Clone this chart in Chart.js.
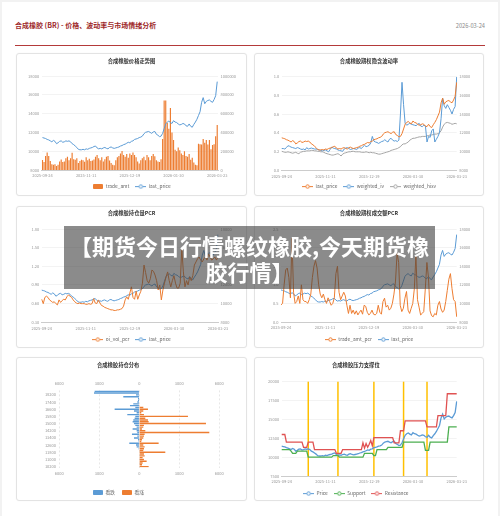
<!DOCTYPE html>
<html lang="zh">
<head>
<meta charset="utf-8">
<title>合成橡胶 (BR) - 价格、波动率与市场情绪分析</title>
<script src="https://cdn.jsdelivr.net/npm/chart.js@4.4.1/dist/chart.umd.min.js"></script>
<style>
  html, body { margin: 0; padding: 0; }
  body { width: 500px; height: 516px; position: relative; overflow: hidden; background: #f2f2f2;
         font-family: "Noto Sans CJK SC", "Noto Sans", sans-serif; }
  .page { position: absolute; left: 2px; top: 2px; width: 496px; height: 514px; background: #fff; }
  .head-title { position: absolute; left: 15px; top: 21px; font-size: 7px; line-height: 9px; font-weight: bold; color: #9e2a2b; white-space: nowrap; }
  .head-date { position: absolute; right: 15px; top: 22px; font-size: 5.7px; line-height: 7px; color: #8a8a8a; }
  .head-rule { position: absolute; left: 15px; top: 45px; width: 470px; height: 1px; background: #b43a3a; }
  .card { position: absolute; box-sizing: border-box; border: 1px solid #e3e3e3; border-radius: 3px; background: #fff;
          box-shadow: 0 0 2px rgba(0,0,0,0.04); }
  canvas { position: absolute; }
  .banner { position: absolute; left: 64px; top: 226px; width: 371px; height: 63px; background: rgba(62,62,62,0.6);
            color: #fff; font-weight: bold; font-size: 22px; line-height: 26px; text-align: center;
            display: flex; flex-direction: column; justify-content: center; white-space: nowrap; z-index: 5; }
</style>
</head>
<body>
<div class="page"></div>
<div class="head-title">合成橡胶 (BR) - 价格、波动率与市场情绪分析</div>
<div class="head-date">2026-03-24</div>
<div class="head-rule"></div>

<div class="card" style="left:16px;top:53px;width:231px;height:143px"></div>
<div class="card" style="left:254px;top:53px;width:230px;height:143px"></div>
<div class="card" style="left:16px;top:206px;width:231px;height:142px"></div>
<div class="card" style="left:254px;top:206px;width:230px;height:142px"></div>
<div class="card" style="left:16px;top:357px;width:231px;height:144px"></div>
<div class="card" style="left:254px;top:357px;width:230px;height:144px"></div>

<canvas id="c1"></canvas>
<canvas id="c2"></canvas>
<canvas id="c3"></canvas>
<canvas id="c4"></canvas>
<canvas id="c5"></canvas>
<canvas id="c6"></canvas>

<div class="banner"><div>【期货今日行情螺纹橡胶,今天期货橡</div><div>胶行情】</div></div>

<script>
// trading days shown on the time axes
const dates = [
    '2025-09-24', '2025-09-25', '2025-09-26', '2025-09-29', '2025-09-30', '2025-10-09', '2025-10-10',
    '2025-10-13', '2025-10-14', '2025-10-15', '2025-10-16', '2025-10-17',
    '2025-10-20', '2025-10-21', '2025-10-22', '2025-10-23', '2025-10-24',
    '2025-10-27', '2025-10-28', '2025-10-29', '2025-10-30', '2025-10-31',
    '2025-11-03', '2025-11-04', '2025-11-05', '2025-11-06', '2025-11-07',
    '2025-11-10', '2025-11-11', '2025-11-12', '2025-11-13', '2025-11-14',
    '2025-11-17', '2025-11-18', '2025-11-19', '2025-11-20', '2025-11-21',
    '2025-11-24', '2025-11-25', '2025-11-26', '2025-11-27', '2025-11-28',
    '2025-12-01', '2025-12-02', '2025-12-03', '2025-12-04', '2025-12-05',
    '2025-12-08', '2025-12-09', '2025-12-10', '2025-12-11', '2025-12-12',
    '2025-12-15', '2025-12-16', '2025-12-17', '2025-12-18', '2025-12-19',
    '2025-12-22', '2025-12-23', '2025-12-24', '2025-12-25', '2025-12-26',
    '2025-12-29', '2025-12-30', '2025-12-31',
    '2026-01-05', '2026-01-06', '2026-01-07', '2026-01-08', '2026-01-09',
    '2026-01-12', '2026-01-13', '2026-01-14', '2026-01-15', '2026-01-16',
    '2026-01-19', '2026-01-20', '2026-01-21', '2026-01-22', '2026-01-23',
    '2026-01-26', '2026-01-27', '2026-01-28', '2026-01-29', '2026-01-30',
    '2026-02-02', '2026-02-03', '2026-02-04', '2026-02-05', '2026-02-06',
    '2026-02-09', '2026-02-10', '2026-02-11', '2026-02-12', '2026-02-13',
    '2026-02-26', '2026-02-27',
    '2026-03-02', '2026-03-03', '2026-03-04', '2026-03-05', '2026-03-06',
    '2026-03-09', '2026-03-10', '2026-03-11', '2026-03-12', '2026-03-13',
    '2026-03-16', '2026-03-17', '2026-03-18', '2026-03-19', '2026-03-20',
    '2026-03-23'
];

const lastPrice = [
    11450, 11400, 11350, 11250, 11200, 11100, 11000, 11150, 11050, 10800,
    10900, 11050, 11100, 10950, 11000, 11100, 11050, 11100, 11000, 10800,
    10700, 10550, 10400, 10200, 10150, 10150, 10200, 10150, 10250, 10200,
    10300, 10350, 10400, 10500, 10550, 10350, 10250, 10300, 10250, 10350,
    10400, 10300, 10250, 10400, 10450, 10350, 10300, 10350, 10400, 10450,
    10550, 10600, 10700, 10750, 10850, 10950, 10900, 11050, 11100, 11250,
    11300, 11350, 11450, 11500, 11600, 11850, 12000, 12050, 12100, 12000,
    11900, 12050, 12100, 11800, 11700, 11550, 11600, 11900, 12400, 12900,
    13100, 13200, 13050, 12950, 13250, 13100, 13050, 12900, 12800, 12850,
    12950, 12900, 12700, 12650, 12900, 12650, 12550, 12850, 13100, 13400,
    13800, 14200, 15200, 15700, 15050, 15300, 15400, 15450, 15300, 15200,
    15500, 15900, 17400
];

const tradeAmt = [
    106000, 85000, 150000, 185000, 150000, 95000, 60000, 55000, 60000, 43000,
    55000, 90000, 113000, 85000, 90000, 124000, 142000, 105000, 125000, 184000,
    115000, 110000, 125000, 75000, 95000, 110000, 105000, 88000, 135000, 105000,
    120000, 95000, 100000, 113000, 140000, 160000, 125000, 105000, 135000, 90000,
    115000, 140000, 150000, 100000, 75000, 55000, 50000, 105000, 135000, 150000,
    175000, 202000, 160000, 140000, 170000, 130000, 175000, 160000, 185000, 160000,
    135000, 90000, 70000, 105000, 125000, 140000, 105000, 160000, 135000, 105000,
    150000, 170000, 145000, 105000, 90000, 85000, 115000, 330000, 740000, 740000,
    500000, 440000, 660000, 400000, 320000, 215000, 200000, 240000, 210000, 175000,
    160000, 200000, 150000, 140000, 170000, 110000, 130000, 80000, 55000, 50000,
    280000, 275000, 270000, 330000, 290000, 320000, 270000, 320000, 220000, 265000,
    275000, 360000, 480000
];

const weightedIv = [
    0.23, 0.23, 0.225, 0.24, 0.26, 0.255, 0.245, 0.24, 0.235, 0.23,
    0.24, 0.235, 0.225, 0.22, 0.225, 0.215, 0.24, 0.225, 0.23, 0.235,
    0.23, 0.225, 0.225, 0.22, 0.215, 0.21, 0.205, 0.21, 0.215, 0.205,
    0.195, 0.22, 0.245, 0.235, 0.23, 0.225, 0.215, 0.21, 0.205, 0.2,
    0.225, 0.235, 0.24, 0.23, 0.22, 0.225, 0.23, 0.225, 0.22, 0.235,
    0.24, 0.23, 0.25, 0.265, 0.25, 0.255, 0.265, 0.29, 0.36, 0.31,
    0.3, 0.295, 0.285, 0.295, 0.305, 0.31, 0.325, 0.31, 0.3, 0.33,
    0.34, 0.32, 0.31, 0.315, 0.305, 0.32, 0.6, 0.94, 0.7, 0.5,
    0.48, 0.49, 0.5, 0.49, 0.485, 0.48, 0.475, 0.49, 0.5, 0.47,
    0.465, 0.48, 0.47, 0.3, 0.36, 0.35, 0.42, 0.44, 0.3, 0.33,
    0.36, 0.4, 0.55, 0.77, 0.69, 0.66, 0.7, 0.67, 0.64, 0.6,
    0.65, 0.68, 1.0
];

const weightedHisv = [
    0.2, 0.195, 0.19, 0.19, 0.195, 0.19, 0.185, 0.18, 0.185, 0.19,
    0.18, 0.175, 0.19, 0.195, 0.2, 0.2, 0.205, 0.205, 0.205, 0.21,
    0.21, 0.205, 0.205, 0.2, 0.2, 0.195, 0.195, 0.19, 0.18, 0.175,
    0.17, 0.165, 0.16, 0.16, 0.165, 0.17, 0.175, 0.165, 0.15, 0.17,
    0.18, 0.185, 0.19, 0.195, 0.195, 0.2, 0.2, 0.195, 0.195, 0.195,
    0.195, 0.19, 0.19, 0.19, 0.195, 0.19, 0.185, 0.19, 0.185, 0.185,
    0.18, 0.175, 0.17, 0.17, 0.175, 0.18, 0.185, 0.19, 0.195, 0.2,
    0.21, 0.215, 0.22, 0.225, 0.23, 0.24, 0.25, 0.27, 0.28, 0.28,
    0.29, 0.3, 0.32, 0.33, 0.34, 0.34, 0.345, 0.35, 0.355, 0.355,
    0.36, 0.36, 0.36, 0.365, 0.37, 0.375, 0.375, 0.38, 0.385, 0.385,
    0.39, 0.4, 0.42, 0.46, 0.49, 0.505, 0.51, 0.505, 0.5, 0.49,
    0.495, 0.5, 0.495
];

const oiVolPcr = [
    0.67, 0.6, 0.7, 0.72, 0.7, 0.66, 0.64, 0.62, 0.63, 0.6,
    0.58, 0.66, 0.62, 0.65, 0.67, 0.66, 0.71, 0.74, 0.72, 0.7,
    0.66, 0.63, 0.61, 0.6, 0.61, 0.6, 0.6, 0.6, 0.59, 0.59,
    0.6, 0.59, 0.6, 0.68, 0.61, 0.6, 0.66, 0.61, 0.57, 0.56,
    0.54, 0.53, 0.52, 0.51, 0.5, 0.5, 0.49, 0.49, 0.5, 0.5,
    0.51, 0.52, 0.56, 0.66, 0.71, 0.67, 0.77, 0.87, 0.7, 0.67,
    0.8, 0.67, 0.74, 0.8, 0.93, 1.22, 1.1, 0.97, 0.93, 1.0,
    1.14, 1.12, 1.06, 0.97, 0.82, 0.9, 0.66, 0.82, 0.93, 1.03,
    1.11, 0.97, 0.87, 0.97, 1.05, 0.93, 0.85, 0.85, 0.93, 1.49,
    1.11, 0.87, 0.97, 0.9, 1.03, 0.97, 1.05, 1.22, 1.27, 1.32,
    1.35, 1.3, 1.27, 1.32, 1.35, 1.3, 1.4, 1.35, 1.3, 1.32,
    1.35, 1.3, 1.35
];

const tradeAmtPcr = [
    0.46, 0.5, 1.0, 1.4, 1.45, 1.2, 0.65, 2.25, 0.8, 0.5,
    0.55, 0.7, 0.5, 1.0, 0.6, 0.55, 0.55, 0.5, 0.6, 0.75,
    1.2, 1.5, 1.65, 1.45, 1.0, 0.75, 0.65, 0.75, 0.6, 0.5,
    0.65, 0.55, 0.45, 0.5, 0.65, 1.3, 1.5, 0.8, 0.6, 0.7,
    0.8, 0.7, 0.45, 0.23, 0.45, 0.23, 0.32, 0.21, 0.3, 0.19,
    0.26, 0.32, 0.21, 0.45, 0.42, 0.26, 0.19, 0.23, 0.32, 0.21,
    0.19, 0.23, 0.45, 0.26, 0.21, 0.55, 0.64, 0.4, 0.45, 0.32,
    0.37, 0.5, 0.75, 1.1, 1.85, 1.6, 0.45, 0.28, 0.37, 0.64,
    0.82, 0.32, 0.23, 0.37, 0.5, 0.9, 1.8, 0.6, 0.4, 0.19,
    0.23, 0.28, 0.9, 1.6, 1.2, 0.3, 0.17, 0.14, 0.23, 0.19,
    0.45, 0.55, 0.35, 0.26, 0.32, 0.55, 0.85, 1.15, 1.3, 0.9,
    0.6, 0.55, 0.14
];

const support = [
    11000, 11000, 11000, 11000, 11000, 11000, 10800, 10500, 10500, 10500,
    10800, 10800, 10800, 10800, 10800, 10800, 10800, 10000, 10000, 10000,
    10000, 10000, 10000, 10000, 10000, 10000, 10000, 10000, 10000, 10000,
    10000, 10000, 10000, 10200, 10200, 10200, 10200, 10000, 10000, 10000,
    10000, 10000, 10000, 10000, 10000, 10000, 10000, 10000, 10000, 10000,
    10000, 10000, 10000, 10500, 10500, 10500, 10500, 10500, 10500, 10200,
    10200, 11000, 11000, 11000, 11000, 11000, 11000, 11000, 11300, 11300,
    11300, 11300, 11300, 11300, 11300, 11300, 11300, 11300, 12000, 12000,
    12000, 12000, 12000, 12000, 12000, 12000, 12000, 12000, 12000, 12000,
    12000, 12000, 10900, 10900, 10900, 12000, 12000, 12000, 12000, 12000,
    12000, 12000, 12000, 12000, 12000, 12000, 12000, 14000, 14000, 14000,
    14000, 14000, 14000
];

const resistance = [
    13000, 13000, 13000, 12000, 12000, 12000, 12000, 12000, 12000, 12000,
    12000, 12000, 12000, 12000, 11300, 11300, 11300, 12000, 12000, 12000,
    12000, 11000, 11000, 11000, 11000, 11000, 11000, 11000, 11000, 11000,
    11000, 11000, 11000, 11000, 11000, 10500, 10500, 10500, 10500, 11000,
    11000, 11000, 11000, 11000, 11000, 11000, 11000, 11000, 11000, 11000,
    11000, 11000, 11900, 11200, 11800, 11300, 11700, 12200, 11500, 12600,
    12600, 12600, 12600, 12600, 12600, 12600, 12600, 12600, 12600, 12600,
    12600, 12600, 11900, 11900, 11900, 11900, 13500, 13500, 13500, 14800,
    14800, 14800, 14800, 14800, 14800, 14800, 14800, 14800, 14800, 14800,
    14800, 14800, 14800, 14000, 14000, 14000, 14000, 14000, 14000, 14000,
    15500, 15500, 15500, 15500, 15500, 15500, 18400, 18400, 18400, 18400,
    18400, 18400, 18400
];

// marked days on the support / resistance chart
const eventDates = ['2025-10-27', '2025-11-21', '2025-12-24', '2026-01-22', '2026-02-12'];

// option open interest by strike, top to bottom
const strikes = [
    '18600', '18400', '18200', '18000', '17800', '17600', '17400', '17200', '17000', '16800',
    '16600', '16400', '16200', '16000', '15800', '15600', '15400', '15200', '15000', '14800',
    '14600', '14400', '14200', '14000', '13800', '13600', '13400', '13200', '13000', '12800',
    '12600', '12400', '12200', '12000', '11800', '11600', '11400', '11200', '11000', '10800',
    '10600', '10400', '10200'
];
const putOi = [
    3350, 3400, 250, 1200, 100, 100, 150, 450, 700, 300,
    1850, 400, 200, 900, 300, 350, 450, 500, 400, 300,
    200, 500, 200, 150, 550, 150, 400, 100, 50, 750,
    250, 200, 50, 0, 0, 0, 0, 0, 0, 0,
    0, 0, 0
];
const callOi = [
    0, 0, 0, 0, 0, 0, 0, 0, 50, 300,
    650, 300, 150, 350, 3650, 450, 650, 700, 5000, 350,
    300, 200, 450, 5250, 400, 350, 300, 200, 150, 1450,
    300, 400, 350, 300, 1950, 350, 400, 250, 350, 550,
    250, 200, 700
];

const BLUE = '#5b9bd5', ORANGE = '#ed7d31', GRAY = '#a5a5a5', GREEN = '#4caf50', RED = '#e05252', YELLOW = '#ffc000';
const TITLE_SIZE = 5.3, TICK_SIZE = 4, LEGEND_SIZE = 4.8, LEGEND_PAD = 6;

Chart.defaults.font.family = '"Noto Sans CJK SC", "Noto Sans", sans-serif';

function lineIcon(color) {
    const c = document.createElement('canvas');
    c.width = 11; c.height = 5;
    const g = c.getContext('2d');
    g.strokeStyle = color; g.lineWidth = 1;
    g.beginPath(); g.moveTo(0, 2.5); g.lineTo(11, 2.5); g.stroke();
    g.beginPath(); g.arc(5.5, 2.5, 1.7, 0, Math.PI * 2);
    g.fillStyle = '#fff'; g.fill(); g.stroke();
    return c;
}

function boxIcon(color) {
    const c = document.createElement('canvas');
    c.width = 10; c.height = 5;
    const g = c.getContext('2d');
    g.fillStyle = color;
    g.beginPath(); g.roundRect(0, 0, 10, 5, 1); g.fill();
    return c;
}

function frame(id, left, top, width, height) {
    const cv = document.getElementById(id);
    cv.width = width; cv.height = height;
    cv.style.left = left + 'px'; cv.style.top = top + 'px';
    return { cv, left, top, width, height };
}

function legendTop(box) {
    return box.top + box.height - (LEGEND_SIZE + LEGEND_PAD + 10);
}

function pluginsFor(box, text, titleY, titleBottom) {
    const lh = TITLE_SIZE * 1.2;
    const padTop = titleY - box.top - lh / 2;
    return {
        title: {
            display: true, text, color: '#333',
            font: { size: TITLE_SIZE, weight: 'bold' },
            padding: { top: padTop, bottom: titleBottom - box.top - padTop - lh }
        },
        legend: {
            position: 'bottom',
            labels: {
                font: { size: LEGEND_SIZE }, color: '#666',
                usePointStyle: true, pointStyleWidth: 11, boxHeight: LEGEND_SIZE, padding: LEGEND_PAD,
                generateLabels: chart => chart.data.datasets.map((ds, i) => ({
                    text: ds.label, pointStyle: ds.legendIcon, datasetIndex: i,
                    fontColor: '#666', lineWidth: 0, hidden: false
                }))
            }
        },
        tooltip: { enabled: false }
    };
}

function dateAxis(height, pad) {
    return {
        type: 'category',
        grid: { display: false, drawTicks: false },
        border: { color: '#cccccc' },
        ticks: {
            autoSkip: false, maxRotation: 0, minRotation: 0, padding: pad || 3.5,
            color: '#999', font: { size: TICK_SIZE },
            callback: function (v, i) { return i % 28 === 0 ? dates[i] : null; }
        },
        afterFit: s => { s.height = height; }
    };
}

function valueAxis(pos, min, max, step, width, fmt, showGrid) {
    return {
        position: pos, min, max,
        ticks: { stepSize: step, padding: 2.5, color: '#999', font: { size: TICK_SIZE }, callback: fmt },
        grid: { display: showGrid, color: '#eeeeee', lineWidth: 0.7, drawTicks: false },
        border: { display: false },
        afterFit: s => { s.width = width; }
    };
}

const plain = v => String(v);

document.addEventListener("DOMContentLoaded", function () {

    // 1. price and turnover
    const b1 = frame('c1', 17, 53, 229, 146);
    new Chart(b1.cv, {
        type: 'bar',
        data: {
            labels: dates,
            datasets: [
                { label: 'trade_amt', data: tradeAmt, yAxisID: 'yR', backgroundColor: ORANGE, order: 1,
                  barPercentage: 0.75, categoryPercentage: 1, legendIcon: boxIcon(ORANGE) },
                { type: 'line', label: 'last_price', data: lastPrice, yAxisID: 'yL', borderColor: BLUE,
                  borderWidth: 1, pointRadius: 0, order: 0, legendIcon: lineIcon(BLUE) }
            ]
        },
        options: {
            responsive: false, animation: false, events: [],
            plugins: pluginsFor(b1, '合成橡胶价格走势图', 60.7, 76),
            scales: {
                x: dateAxis(legendTop(b1) - 170),
                yL: valueAxis('left', 8000, 18000, 2000, 41.7 - b1.left, plain, true),
                yR: valueAxis('right', 0, 1000000, 200000, b1.left + b1.width - 218, plain, false)
            }
        }
    });

    // 2. implied / historical volatility
    const b2 = frame('c2', 255, 53, 228, 146);
    new Chart(b2.cv, {
        type: 'line',
        data: {
            labels: dates,
            datasets: [
                { label: 'last_price', data: lastPrice, yAxisID: 'yR', borderColor: ORANGE, legendIcon: lineIcon(ORANGE) },
                { label: 'weighted_iv', data: weightedIv, yAxisID: 'yL', borderColor: BLUE, legendIcon: lineIcon(BLUE) },
                { label: 'weighted_hisv', data: weightedHisv, yAxisID: 'yL', borderColor: GRAY, legendIcon: lineIcon(GRAY) }
            ]
        },
        options: {
            responsive: false, animation: false, events: [],
            elements: { line: { borderWidth: 1 }, point: { radius: 0 } },
            plugins: pluginsFor(b2, '合成橡胶期权隐含波动率', 60.7, 76.7),
            scales: {
                x: dateAxis(legendTop(b2) - 170, 4.5),
                yL: valueAxis('left', 0, 1, 0.2, 281.7 - b2.left, v => v.toFixed(1), true),
                yR: valueAxis('right', 8000, 18000, 2000, b2.left + b2.width - 456.7, plain, false)
            }
        }
    });

    // 3. open interest put/call ratio
    const b3 = frame('c3', 17, 207, 229, 145);
    new Chart(b3.cv, {
        type: 'line',
        data: {
            labels: dates,
            datasets: [
                { label: 'oi_vol_pcr', data: oiVolPcr, yAxisID: 'yL', borderColor: ORANGE, legendIcon: lineIcon(ORANGE) },
                { label: 'last_price', data: lastPrice, yAxisID: 'yR', borderColor: BLUE, legendIcon: lineIcon(BLUE) }
            ]
        },
        options: {
            responsive: false, animation: false, events: [],
            elements: { line: { borderWidth: 1 }, point: { radius: 0 } },
            plugins: pluginsFor(b3, '合成橡胶持仓量PCR', 212.7, 229),
            scales: {
                x: dateAxis(legendTop(b3) - 322.3),
                yL: valueAxis('left', 0.3, 1.8, 0.3, 41.7 - b3.left, v => v.toFixed(2), true),
                yR: valueAxis('right', 8000, 18000, 2000, b3.left + b3.width - 218, plain, false)
            }
        }
    });

    // 4. turnover put/call ratio
    const b4 = frame('c4', 255, 207, 228, 145);
    new Chart(b4.cv, {
        type: 'line',
        data: {
            labels: dates,
            datasets: [
                { label: 'trade_amt_pcr', data: tradeAmtPcr, yAxisID: 'yL', borderColor: ORANGE, legendIcon: lineIcon(ORANGE) },
                { label: 'last_price', data: lastPrice, yAxisID: 'yR', borderColor: BLUE, legendIcon: lineIcon(BLUE) }
            ]
        },
        options: {
            responsive: false, animation: false, events: [],
            elements: { line: { borderWidth: 1 }, point: { radius: 0 } },
            plugins: pluginsFor(b4, '合成橡胶期权成交额PCR', 212.7, 229),
            scales: {
                x: dateAxis(legendTop(b4) - 322),
                yL: valueAxis('left', 0, 2.5, 0.5, 281 - b4.left, v => v.toFixed(1), true),
                yR: valueAxis('right', 8000, 18000, 2000, b4.left + b4.width - 456.7, plain, false)
            }
        }
    });

    // 5. open interest by strike
    const b5 = frame('c5', 17, 358, 229, 147);
    const plotTop5 = 390.4, plotBottom5 = 467.5, titleEnd5 = 372;
    const strikeAxis = {
        type: 'linear', min: -6000, max: 6000,
        ticks: { stepSize: 3000, color: '#999', font: { size: TICK_SIZE }, callback: v => String(Math.abs(v)) },
        border: { display: false, dash: [2, 2] }
    };
    new Chart(b5.cv, {
        type: 'bar',
        data: {
            labels: strikes,
            datasets: [
                { label: '看跌', data: putOi.map(v => -v), backgroundColor: BLUE, legendIcon: boxIcon(BLUE) },
                { label: '看涨', data: callOi, backgroundColor: ORANGE, legendIcon: boxIcon(ORANGE) }
            ]
        },
        options: {
            responsive: false, animation: false, events: [],
            indexAxis: 'y',
            layout: { padding: { right: b5.left + b5.width - 219.3 } },
            datasets: { bar: { barPercentage: 0.8, categoryPercentage: 1 } },
            plugins: pluginsFor(b5, '合成橡胶持仓分布', 365, titleEnd5),
            scales: {
                x: Object.assign({}, strikeAxis, {
                    position: 'bottom', stacked: true,
                    ticks: Object.assign({}, strikeAxis.ticks, { padding: 3.4 }),
                    grid: { color: '#dddddd', lineWidth: 0.7, drawTicks: false },
                    afterFit: s => { s.height = legendTop(b5) - plotBottom5; }
                }),
                x2: Object.assign({}, strikeAxis, {
                    position: 'top',
                    ticks: Object.assign({}, strikeAxis.ticks, { padding: 4.7 }),
                    grid: { display: false, drawTicks: false },
                    afterFit: s => { s.height = plotTop5 - titleEnd5; }
                }),
                y: {
                    type: 'category', stacked: true,
                    grid: { display: false, drawTicks: false },
                    border: { display: false },
                    ticks: {
                        autoSkip: false, padding: 3.3, color: '#999', font: { size: TICK_SIZE },
                        callback: function (v, i) { return (Number(strikes[i]) - 10200) % 800 === 0 ? strikes[i] : null; }
                    },
                    afterFit: s => { s.width = 59.3 - b5.left; }
                }
            }
        }
    });

    // 6. price with support / resistance
    const b6 = frame('c6', 255, 358, 228, 148);
    const eventLines = {
        id: 'eventLines',
        beforeDatasetsDraw(chart) {
            const { ctx, chartArea, scales: { x } } = chart;
            ctx.save();
            ctx.strokeStyle = YELLOW;
            ctx.lineWidth = 1.5;
            eventDates.forEach(d => {
                const px = x.getPixelForValue(dates.indexOf(d));
                ctx.beginPath();
                ctx.moveTo(px, chartArea.top);
                ctx.lineTo(px, chartArea.bottom);
                ctx.stroke();
            });
            ctx.restore();
        }
    };
    new Chart(b6.cv, {
        type: 'line',
        data: {
            labels: dates,
            datasets: [
                { label: 'Price', data: lastPrice, borderColor: BLUE, order: 2, legendIcon: lineIcon(BLUE) },
                { label: 'Support', data: support, borderColor: GREEN, order: 1, legendIcon: lineIcon(GREEN) },
                { label: 'Resistance', data: resistance, borderColor: RED, order: 0, legendIcon: lineIcon(RED) }
            ]
        },
        options: {
            responsive: false, animation: false, events: [],
            elements: { line: { borderWidth: 1.3 }, point: { radius: 0 } },
            layout: { padding: { right: b6.left + b6.width - 456.7 } },
            plugins: pluginsFor(b6, '合成橡胶压力支撑位', 365, 381.7),
            scales: {
                x: dateAxis(legendTop(b6) - 476),
                y: valueAxis('left', 7500, 20000, 2500, 281.7 - b6.left, plain, true)
            }
        },
        plugins: [eventLines]
    });
});
</script>
</body>
</html>
